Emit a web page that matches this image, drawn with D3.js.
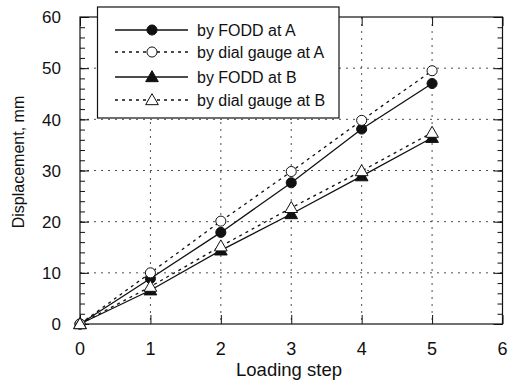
<!DOCTYPE html>
<html><head><meta charset="utf-8">
<script src="https://cdn.jsdelivr.net/npm/d3@7"></script>
<style>body{margin:0;background:#fff;} text{font-family:"Liberation Sans",Arial,Helvetica,sans-serif;}</style>
</head><body><svg id="c" width="519" height="383"></svg>
<script>
const steps = [0, 1, 2, 3, 4, 5];
const foddA = [0, 8.9, 17.9, 27.6, 38.1, 47.0];
const dialA = [0, 10.0, 20.1, 29.8, 39.8, 49.5];
const foddB = [0, 6.6, 14.4, 21.5, 28.9, 36.4];
const dialB = [0, 7.3, 15.2, 22.7, 29.9, 37.4];
const xTicks = [0, 1, 2, 3, 4, 5, 6];
const yTicks = [0, 10, 20, 30, 40, 50, 60];
const seriesNames = ["by FODD at A", "by dial gauge at A", "by FODD at B", "by dial gauge at B"];

const svg = d3.select("#c");
const L = 80, R = 502.5, T = 17, B = 324;
const x = d3.scaleLinear().domain([0, 6]).range([L, R]);
const y = d3.scaleLinear().domain([0, 60]).range([B, T]);

// grid
const g = svg.append("g");
g.selectAll(".gx").data(xTicks.slice(1, -1)).enter().append("line")
  .attr("x1", d => x(d)).attr("x2", d => x(d)).attr("y1", T).attr("y2", B)
  .attr("stroke", "#222").attr("stroke-width", 0.8).attr("stroke-dasharray", "2,5");
g.selectAll(".gy").data(yTicks.slice(1, -1)).enter().append("line")
  .attr("y1", d => y(d)).attr("y2", d => y(d)).attr("x1", L).attr("x2", R)
  .attr("stroke", "#222").attr("stroke-width", 0.8).attr("stroke-dasharray", "2,5");

// axes
const ax = svg.append("g");
const minorY = d3.range(0, 61, 2);
ax.append("g").attr("transform", `translate(${L},0)`).call(d3.axisLeft(y).tickValues(minorY).tickSize(-5).tickFormat(""));
ax.append("g").attr("transform", `translate(${R},0)`).call(d3.axisRight(y).tickValues(minorY).tickSize(-5).tickFormat(""));
ax.append("g").attr("transform", `translate(${L},0)`).call(d3.axisLeft(y).tickValues(yTicks).tickSize(-9).tickFormat(""));
ax.append("g").attr("transform", `translate(${R},0)`).call(d3.axisRight(y).tickValues(yTicks).tickSize(-9).tickFormat(""));
ax.append("g").attr("transform", `translate(0,${B})`).call(d3.axisBottom(x).tickValues(xTicks).tickSize(-9).tickFormat(""));
ax.append("g").attr("transform", `translate(0,${T})`).call(d3.axisTop(x).tickValues(xTicks).tickSize(-9).tickFormat(""));
ax.selectAll(".domain").remove();
ax.selectAll("line").attr("stroke", "#111").attr("stroke-width", 1);
svg.append("rect").attr("x", L).attr("y", T).attr("width", R - L).attr("height", B - T)
  .attr("fill", "none").attr("stroke", "#111").attr("stroke-width", 1.2);

// tick labels
svg.selectAll(".yl").data(yTicks).enter().append("text")
  .attr("x", 61).attr("y", d => y(d) + 6.2).attr("text-anchor", "end")
  .attr("font-size", 17).attr("fill", "#111").text(d => d);
svg.selectAll(".xl").data(xTicks).enter().append("text")
  .attr("x", d => x(d)).attr("y", 355).attr("text-anchor", "middle")
  .attr("font-size", 18).attr("fill", "#111").text(d => d);
svg.append("text").attr("x", 289).attr("y", 376).attr("text-anchor", "middle")
  .attr("font-size", 18.5).attr("fill", "#111").text("Loading step");
svg.append("text").attr("transform", `translate(24,162) rotate(-90)`)
  .attr("text-anchor", "middle").attr("font-size", 16).attr("fill", "#111").text("Displacement, mm");

// series
const series = [
  {vals: foddA, dash: null, shape: "circle", fill: "#111"},
  {vals: dialA, dash: "3,4", shape: "circle", fill: "#fff"},
  {vals: foddB, dash: null, shape: "triangle", fill: "#111"},
  {vals: dialB, dash: "3,4", shape: "triangle", fill: "#fff"}
];
const line = d3.line().x((d, i) => x(steps[i])).y(d => y(d));
const sym = s => d3.symbol().type(s === "circle" ? d3.symbolCircle : d3.symbolTriangle).size(s === "circle" ? 80 : 70)();
series.forEach(s => {
  svg.append("path").datum(s.vals).attr("d", line).attr("fill", "none")
    .attr("stroke", "#111").attr("stroke-width", 1.3).attr("stroke-dasharray", s.dash);
});
series.forEach(s => {
  svg.selectAll(null).data(s.vals).enter().append("path")
    .attr("d", sym(s.shape))
    .attr("transform", (d, i) => `translate(${x(steps[i])},${y(d) + (s.shape === "triangle" ? 1 : 0)})`)
    .attr("fill", s.fill).attr("stroke", "#111").attr("stroke-width", 1);
});

// legend
const lg = svg.append("g");
lg.append("rect").attr("x", 97.5).attr("y", 7).attr("width", 241.5).attr("height", 111)
  .attr("fill", "#fff").attr("stroke", "#111").attr("stroke-width", 1.2);
const rowsY = [30, 52, 77, 100];
series.forEach((s, i) => {
  lg.append("line").attr("x1", 115).attr("x2", 188).attr("y1", rowsY[i]).attr("y2", rowsY[i])
    .attr("stroke", "#111").attr("stroke-width", 1.3).attr("stroke-dasharray", s.dash);
  lg.append("path").attr("d", sym(s.shape))
    .attr("transform", `translate(152,${rowsY[i] + (s.shape === "triangle" ? 1 : 0)})`)
    .attr("fill", s.fill).attr("stroke", "#111").attr("stroke-width", 1);
  lg.append("text").attr("x", 197).attr("y", rowsY[i] + 6).attr("font-size", 16)
    .attr("fill", "#111").text(seriesNames[i]);
});
</script></body></html>
